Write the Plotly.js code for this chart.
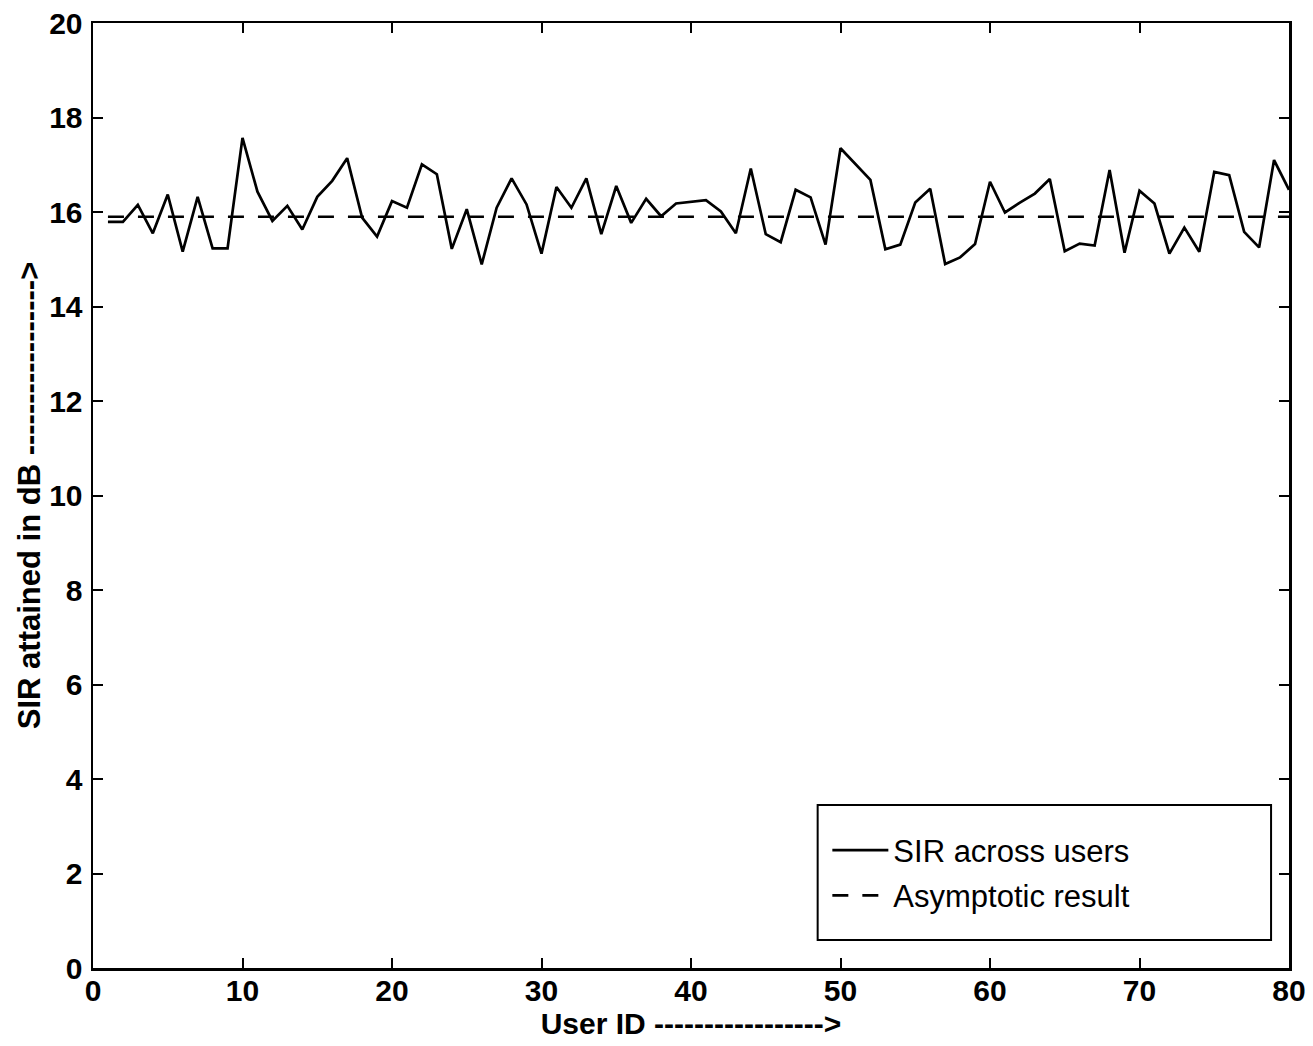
<!DOCTYPE html>
<html>
<head>
<meta charset="utf-8">
<script src="https://cdn.plot.ly/plotly-3.0.1.min.js"></script>
<style>
  html, body { margin: 0; padding: 0; background: #ffffff; }
  #chart { width: 1313px; height: 1046px; }
</style>
</head>
<body>
<div id="chart"></div>
<script>
// ---- data ----
const userId = [1,2,3,4,5,6,7,8,9,10,11,12,13,14,15,16,17,18,19,20,
                21,22,23,24,25,26,27,28,29,30,31,32,33,34,35,36,37,38,39,40,
                41,42,43,44,45,46,47,48,49,50,51,52,53,54,55,56,57,58,59,60,
                61,62,63,64,65,66,67,68,69,70,71,72,73,74,75,76,77,78,79,80];
const sirAcrossUsers = [
  15.79,15.79,16.15,15.55,16.37,15.16,16.32,15.23,15.23,17.57,
  16.43,15.81,16.13,15.63,16.32,16.66,17.14,15.88,15.48,16.23,
  16.09,17.01,16.80,15.22,16.06,14.89,16.09,16.71,16.16,15.12,
  16.53,16.09,16.71,15.53,16.55,15.77,16.28,15.91,16.18,16.21,
  16.25,16.01,15.55,16.92,15.53,15.36,16.47,16.31,15.31,17.35,
  17.02,16.68,15.21,15.31,16.20,16.49,14.90,15.04,15.32,16.64,
  15.99,16.20,16.39,16.70,15.17,15.33,15.29,16.89,15.14,16.45,
  16.18,15.12,15.67,15.16,16.85,16.78,15.58,15.25,17.10,16.47];
const asymptoticX = [1, 80];
const asymptoticY = [15.9, 15.9];
const seriesNames = ["SIR across users", "Asymptotic result"];
const xTickValues = [0,10,20,30,40,50,60,70,80];
const yTickValues = [0,2,4,6,8,10,12,14,16,18,20];
const xTitle = 'User ID ----------------->';
const yTitle = 'SIR attained in dB ----------------->';

const FONT = '"Liberation Sans", Arial, Helvetica, sans-serif';

const traces = [
  {
    x: userId, y: sirAcrossUsers, type: 'scatter', mode: 'lines',
    name: seriesNames[0], legendgroup: 'a',
    line: { color: '#000000', width: 2.7 }
  },
  {
    x: asymptoticX, y: asymptoticY, type: 'scatter', mode: 'lines',
    name: seriesNames[1], legendgroup: 'b',
    line: { color: '#000000', width: 2.7, dash: '16px,14px' }
  }
];

const axisCommon = {
  showgrid: false, zeroline: false,
  showline: true, linecolor: '#000000', linewidth: 2.5,
  mirror: 'ticks', ticks: 'inside', ticklen: 10, tickwidth: 2, tickcolor: '#000000',
  tickfont: { family: FONT, size: 30, color: '#000000', weight: 'bold' },
  automargin: false
};

const layout = {
  width: 1313, height: 1046,
  paper_bgcolor: '#ffffff', plot_bgcolor: '#ffffff',
  margin: { l: 93, r: 24, t: 23, b: 78 },
  font: { family: FONT, color: '#000000' },
  xaxis: Object.assign({}, axisCommon, {
    range: [0, 80], tickvals: xTickValues, ticklabelstandoff: -6,
    title: { text: xTitle, font: { family: FONT, size: 30, color: '#000000', weight: 'bold' }, standoff: 6 }
  }),
  yaxis: Object.assign({}, axisCommon, {
    range: [0, 20], tickvals: yTickValues, ticklabelstandoff: 2,
    title: { text: yTitle, font: { family: FONT, size: 31, color: '#000000', weight: 'bold' }, standoff: 0 }
  }),
  showlegend: true,
  legend: {
    x: 0.614, y: 0.153, xanchor: 'left', yanchor: 'top',
    bgcolor: 'rgba(0,0,0,0)', borderwidth: 0,
    itemwidth: 56, tracegroupgap: 2,
    font: { family: FONT, size: 31, color: '#000000' }
  },
  shapes: [
    { type: 'rect', xref: 'paper', yref: 'paper',
      x0: 0.6059, x1: 0.985, y0: 0.0296, y1: 0.1725,
      line: { color: '#000000', width: 2 }, fillcolor: 'rgba(0,0,0,0)' }
  ]
};

Plotly.newPlot('chart', traces, layout, { displayModeBar: false, staticPlot: true });
</script>
</body>
</html>
